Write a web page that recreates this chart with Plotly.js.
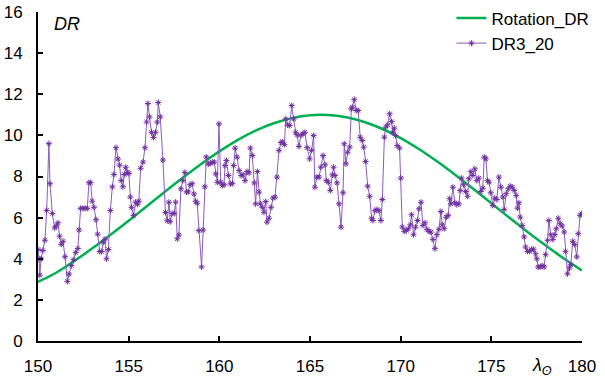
<!DOCTYPE html>
<html><head><meta charset="utf-8">
<script src="https://cdn.plot.ly/plotly-3.0.1.min.js"></script>
<style>html,body{margin:0;padding:0;background:#fff}</style>
</head><body><div id="chart" style="width:605px;height:378px"></div>
<script>
// Rotation_DR (smooth model curve), read at integer longitudes
const rotX = [150,151,152,153,154,155,156,157,158,159,160,161,162,163,164,165,166,167,168,169,170,171,172,173,174,175,176,177,178,179,180];
const rotY = [2.88,3.32,3.89,4.51,5.17,5.85,6.55,7.26,7.95,8.61,9.22,9.77,10.23,10.59,10.84,10.98,10.99,10.88,10.65,10.31,9.87,9.34,8.74,8.09,7.40,6.70,5.99,5.30,4.64,4.01,3.43];

// DR3_20 observed series
const drX = [
150.00,150.06,150.10,150.17,150.27,150.38,150.48,150.60,150.66,150.79,
150.92,151.01,151.10,151.19,151.28,151.38,151.49,151.62,151.71,151.84,
151.95,152.08,152.20,152.26,152.35,152.48,152.59,152.72,152.81,152.90,
152.99,153.09,153.20,153.29,153.40,153.51,153.60,153.69,153.78,153.88,
153.99,154.10,154.19,154.30,154.41,154.50,154.59,154.68,154.76,154.84,
154.93,155.01,155.09,155.16,155.27,155.38,155.49,155.56,155.66,155.79,
155.90,155.99,156.06,156.15,156.26,156.37,156.48,156.58,156.63,156.74,
156.89,157.03,157.13,157.22,157.29,157.40,157.51,157.59,157.68,157.77,
157.88,157.99,158.10,158.19,158.28,158.39,158.50,158.60,158.69,158.78,
158.87,159.02,159.11,159.20,159.28,159.39,159.50,159.61,159.72,159.80,
159.89,159.98,160.08,160.17,160.26,160.31,160.39,160.50,160.61,160.72,
160.79,160.87,160.98,161.09,161.20,161.31,161.42,161.53,161.64,161.71,
161.82,161.93,162.00,162.10,162.19,162.26,162.37,162.46,162.56,162.63,
162.74,162.85,162.96,163.07,163.18,163.29,163.40,163.48,163.59,163.66,
163.77,163.88,163.99,164.10,164.21,164.28,164.39,164.50,164.61,164.72,
164.84,164.98,165.09,165.20,165.27,165.38,165.50,165.60,165.72,165.83,
165.90,166.01,166.12,166.23,166.30,166.38,166.49,166.60,166.71,166.82,
166.89,166.98,167.08,167.19,167.28,167.33,167.44,167.55,167.66,167.77,
167.88,167.96,168.07,168.18,168.29,168.40,168.47,168.58,168.69,168.80,
168.91,168.99,169.10,169.17,169.28,169.39,169.50,169.57,169.65,169.72,
169.81,169.94,170.01,170.09,170.20,170.31,170.42,170.53,170.60,170.71,
170.82,170.93,171.01,171.12,171.23,171.34,171.45,171.56,171.67,171.78,
171.89,172.00,172.11,172.22,172.29,172.40,172.51,172.62,172.70,172.77,
172.88,172.99,173.10,173.21,173.28,173.36,173.47,173.58,173.69,173.76,
173.87,173.98,174.09,174.20,174.31,174.42,174.53,174.61,174.70,174.79,
174.88,174.97,175.08,175.19,175.30,175.42,175.53,175.64,175.71,175.82,
175.93,176.04,176.15,176.26,176.37,176.44,176.52,176.59,176.70,176.81,
176.89,176.99,177.11,177.22,177.33,177.44,177.51,177.58,177.69,177.80,
177.91,177.99,178.10,178.17,178.28,178.39,178.50,178.58,178.69,178.80,
178.91,179.02,179.09,179.20,179.31,179.38,179.49,179.60,179.71,179.79,
179.89,179.98];
const drY = [
4.45,4.0,3.2,4.0,4.4,4.9,6.35,9.6,7.65,6.2,
5.5,5.6,5.75,5.1,4.7,4.85,4.1,2.9,3.25,3.67,
3.95,4.3,4.5,5.4,6.45,6.45,6.45,6.45,7.7,7.7,
6.8,6.5,5.9,5.2,4.35,4.35,4.8,4.95,4.0,4.45,
6.35,7.5,8.1,9.4,8.85,8.55,7.8,7.5,8.1,8.45,
8.2,8.15,7.0,6.5,6.1,6.75,6.65,6.8,8.4,8.7,
9.4,10.65,11.55,10.9,10.15,9.9,10.15,10.65,11.6,10.9,
8.8,6.25,5.85,6.75,5.8,6.2,6.2,6.75,4.97,5.15,
7.4,7.8,8.2,7.25,7.25,7.6,7.65,7.15,6.8,6.7,
5.37,3.6,5.4,7.5,8.95,8.6,8.65,8.7,8.7,8.13,
7.72,10.56,7.72,7.56,7.6,8.53,8.78,8.05,7.64,7.67,
8.53,9.38,8.94,8.29,8.05,8.08,7.8,8.24,8.18,9.38,
9.02,7.69,6.67,8.24,7.24,6.67,6.5,6.26,6.78,5.78,
5.97,6.5,6.95,7.0,7.97,9.27,9.65,9.68,9.55,10.8,
10.51,10.48,11.45,10.8,10.15,10.03,9.46,10.0,10.08,10.15,
9.4,8.86,9.27,9.99,7.48,7.97,7.97,8.45,9.02,8.57,
7.8,7.72,7.32,8.08,8.45,8.05,7.69,6.67,5.54,7.21,
9.59,8.62,9.18,9.43,11.29,11.37,11.75,11.21,11.21,9.91,
9.75,9.43,8.73,7.53,7.04,5.97,5.86,6.34,6.39,6.34,
5.86,6.88,9.91,10.4,10.51,11.05,10.67,10.15,10.35,9.99,
9.5,9.38,7.92,5.54,5.33,5.38,5.46,5.65,6.14,5.17,
5.54,5.86,6.43,6.75,5.62,5.75,5.43,5.33,5.3,4.94,
4.49,5.17,5.43,6.3,5.65,5.46,6.02,6.11,6.92,6.67,
7.48,6.72,6.63,6.67,7.32,7.92,7.6,7.27,7.04,7.89,
8.24,8.05,8.37,7.8,7.92,7.27,7.43,8.94,8.86,7.8,
7.72,7.21,6.59,6.95,6.88,7.97,7.48,7.0,6.39,7.16,
7.4,7.53,7.48,7.32,7.08,6.46,6.72,6.02,5.62,5.06,
4.57,4.36,4.36,4.46,4.46,4.24,4.0,3.6,3.6,3.67,
3.6,4.2,4.9,5.86,5.17,4.94,5.17,5.46,5.97,5.7,
5.59,5.3,4.36,3.27,3.55,3.71,4.85,4.69,4.09,5.22,
6.11,6.19];

const xTicks = [150,155,160,165,170,175,180];
const yTicks = [0,2,4,6,8,10,12,14,16];

const FONT = 'Liberation Sans, Arial, sans-serif';

const traces = [
  {x: rotX, y: rotY, name: 'Rotation_DR', type: 'scatter', mode: 'lines',
   line: {color: '#00B050', width: 2.5, shape: 'spline', smoothing: 1.0}},
  {x: drX, y: drY, name: 'DR3_20', type: 'scatter', mode: 'lines+markers',
   line: {color: '#8a5cc0', width: 1},
   marker: {symbol: 'asterisk-open', size: 5, color: '#7030A0', line: {color: '#7030A0', width: 1}}}
];

const axisCommon = {
  showline: true, linecolor: '#000', linewidth: 2,
  ticks: 'inside', ticklen: 5, tickwidth: 2, tickcolor: '#000',
  showgrid: false, zeroline: false,
  tickfont: {family: FONT, size: 17, color: '#000'}
};

const layout = {
  width: 605, height: 378,
  margin: {l: 38, r: 23, t: 12, b: 37, pad: 0, autoexpand: false},
  paper_bgcolor: '#fff', plot_bgcolor: '#fff',
  font: {family: FONT, size: 17, color: '#000'},
  xaxis: Object.assign({}, axisCommon, {range: [150, 180], tickvals: xTicks, ticktext: xTicks.map(String), ticklabelstandoff: 9, automargin: false}),
  yaxis: Object.assign({}, axisCommon, {range: [0, 16], tickvals: yTicks, ticktext: yTicks.map(String), ticklabelstandoff: 10, automargin: false}),
  showlegend: true,
  legend: {x: 0.76, y: 1.035, xanchor: 'left', yanchor: 'top', bgcolor: 'rgba(0,0,0,0)',
           font: {family: FONT, size: 17, color: '#000'}, tracegroupgap: 0},
  annotations: [
    {text: '<i>DR</i>', xref: 'x', yref: 'y', x: 151.6, y: 15.4, showarrow: false,
     font: {family: FONT, size: 18, color: '#000'}},
    {text: '<i>λ</i><sub><i>ʘ</i></sub>', xref: 'x', yref: 'paper', x: 177.8, y: -0.035, yanchor: 'top',
     showarrow: false, font: {family: FONT, size: 18, color: '#000'}}
  ]
};

Plotly.newPlot('chart', traces, layout, {displayModeBar: false, staticPlot: true});
</script>
</body></html>
